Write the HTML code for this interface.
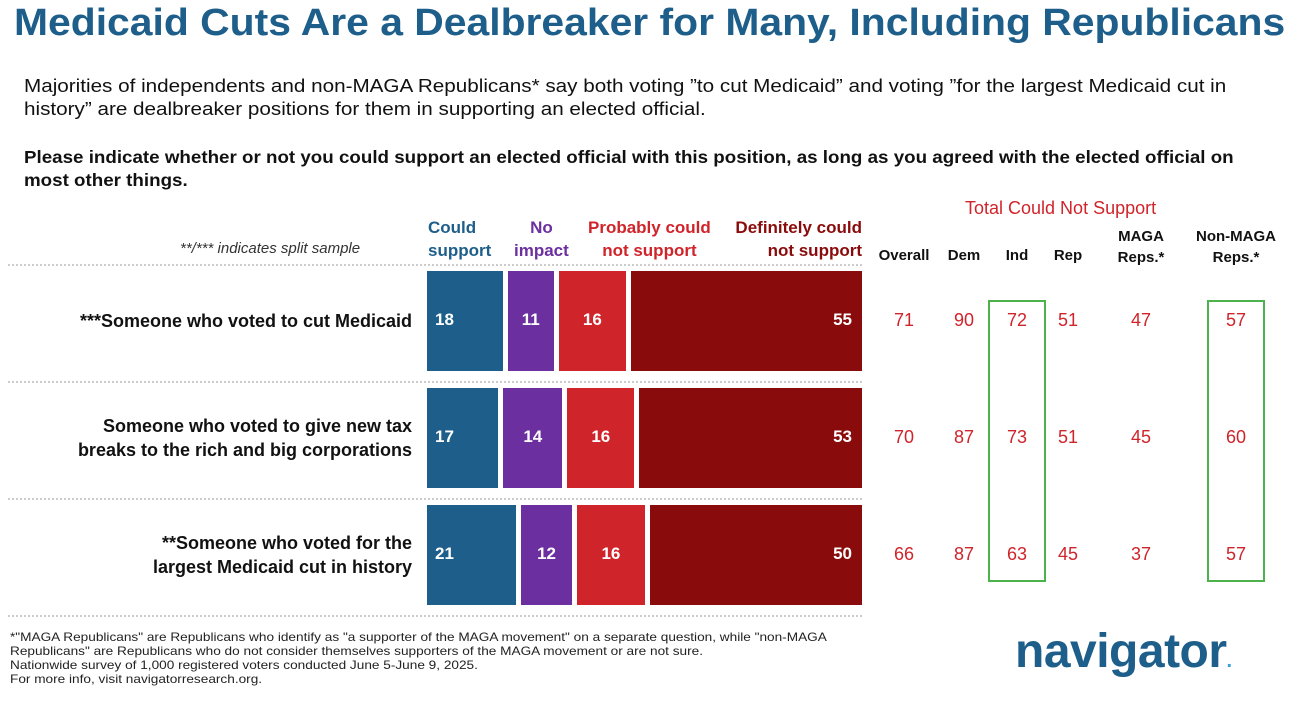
<!DOCTYPE html>
<html><head><meta charset="utf-8"><style>
*{margin:0;padding:0;box-sizing:border-box}
body{width:1298px;height:702px;background:#fff;font-family:"Liberation Sans",sans-serif;position:relative;overflow:hidden;color:#111}
.abs{position:absolute}
#title{left:14px;top:2px;font-size:38px;font-weight:bold;color:#1d5e8a;white-space:nowrap;transform:scaleX(1.075);transform-origin:left top}
#sub{left:24px;top:74px;font-size:18.3px;line-height:23px;width:1112px;transform:scaleX(1.13);transform-origin:left top}
#q{left:24px;top:146px;font-size:17.3px;font-weight:bold;line-height:23px;width:1118px;transform:scaleX(1.086);transform-origin:left top}
.lg{font-size:17px;font-weight:bold;line-height:23px}
.hd{font-size:15px;font-weight:bold;text-align:center;line-height:21px;width:100px}
.lab{font-size:18px;font-weight:bold;text-align:right;width:400px;line-height:24px;left:12px}
.num{font-size:17px;font-weight:bold;color:#fff}
.tv{font-size:18px;color:#d0242b;text-align:center;width:60px}
.dot{left:8px;width:854px;border-top:2px dotted #ccc;height:0}
.box{border:2px solid #4cb24c}
#foot{left:10px;top:630px;font-size:12px;line-height:14px;color:#222;transform:scaleX(1.135);transform-origin:left top;white-space:nowrap}
#logo{left:1015px;top:624px;font-size:48px;font-weight:bold;color:#1d5e8a;letter-spacing:-0.5px}
</style></head><body>
<div id="title" class="abs">Medicaid Cuts Are a Dealbreaker for Many, Including Republicans</div>
<div id="sub" class="abs">Majorities of independents and non-MAGA Republicans* say both voting ”to cut Medicaid” and voting ”for the largest Medicaid cut in history” are dealbreaker positions for them in supporting an elected official.</div>
<div id="q" class="abs">Please indicate whether or not you could support an elected official with this position, as long as you agreed with the elected official on most other things.</div>
<div class="abs" style="left:180px;top:240px;font-size:15px;font-style:italic;color:#333">**/*** indicates split sample</div>
<div class="abs lg" style="left:428px;top:216px;color:#1d5e8a">Could<br>support</div>
<div class="abs lg" style="left:514px;top:216px;color:#6b2fa0;text-align:center">No<br>impact</div>
<div class="abs lg" style="left:588px;top:216px;color:#d0242b;text-align:center">Probably could<br>not support</div>
<div class="abs lg" style="left:700px;top:216px;width:162px;color:#8a0b0b;text-align:right">Definitely could<br>not support</div>
<div class="abs" style="left:965px;top:198px;font-size:18px;color:#d0242b">Total Could Not Support</div>
<div id="chart"></div>
<div id="foot" class="abs">*"MAGA Republicans" are Republicans who identify as "a supporter of the MAGA movement" on a separate question, while "non-MAGA<br>Republicans" are Republicans who do not consider themselves supporters of the MAGA movement or are not sure.<br>Nationwide survey of 1,000 registered voters conducted June 5-June 9, 2025.<br>For more info, visit navigatorresearch.org.</div>
<div id="logo" class="abs">navigator<span style="color:#3aa0d8;font-size:20px">.</span></div>
<script>
const labels=[["***Someone who voted to cut Medicaid"],["Someone who voted to give new tax","breaks to the rich and big corporations"],["**Someone who voted for the","largest Medicaid cut in history"]];
const couldSupport=[18,17,21];
const noImpact=[11,14,12];
const probablyNot=[16,16,16];
const definitelyNot=[55,53,50];
const colHeaders=[["Overall"],["Dem"],["Ind"],["Rep"],["MAGA","Reps.*"],["Non-MAGA","Reps.*"]];
const overall=[71,70,66],dem=[90,87,87],ind=[72,73,63],rep=[51,51,45],maga=[47,45,37],nonMaga=[57,60,57];
const cols=[overall,dem,ind,rep,maga,nonMaga];
const colX=[904,964,1017,1068,1141,1236];
const c=document.getElementById('chart');
const x0=427,xEnd=862,gap=5;
function rowY(i){return 271+i*117;}
const barH=100;
const colors=['#1d5e8a','#6b2fa0','#d0242b','#8a0b0b'];
function mk(cls,style,html){const d=document.createElement('div');d.className='abs '+cls;d.style.cssText=style;d.innerHTML=html||'';c.appendChild(d);return d;}
for(let k=0;k<4;k++){const d=mk('dot','top:'+(264+k*117)+'px');

}
for(let i=0;i<3;i++){
 const vals=[couldSupport[i],noImpact[i],probablyNot[i],definitelyNot[i]];
 const tot=vals.reduce((a,b)=>a+b,0);
 const sc=(xEnd-x0-3*gap)/tot;
 let x=x0;const y=rowY(i);
 const l=mk('lab','top:'+(y+barH/2-labels[i].length*12)+'px',labels[i].join('<br>'));
 
 
 vals.forEach((v,j)=>{
  const w=v*sc;
  const b=mk('','left:'+x+'px;top:'+y+'px;width:'+w+'px;height:'+barH+'px;background:'+colors[j]);
  
  
  const t=mk('num',(j==3?'right:'+(1298-(x+w)+10)+'px;':'left:'+(x+(j==0?8:0))+'px;width:'+(j==0?40:w)+'px;text-align:'+(j==0?'left':'center')+';')+'top:'+(y+barH/2-11)+'px',v);
  
  
  x+=w+gap;
 });
 cols.forEach((arr,k)=>{
  const t=mk('tv','left:'+(colX[k]-30)+'px;top:'+(y+barH/2-11)+'px',arr[i]);
  
  
 });
}
colHeaders.forEach((h,k)=>{
 const t=mk('hd','left:'+(colX[k]-50)+'px;top:'+(h.length==2?226:245)+'px',h.join('<br>'));
 
 
});
[2,5].forEach(k=>{
 const b=mk('box','left:'+(colX[k]-29)+'px;top:300px;width:58px;height:282px');
 
 
});
</script>
</body></html>
